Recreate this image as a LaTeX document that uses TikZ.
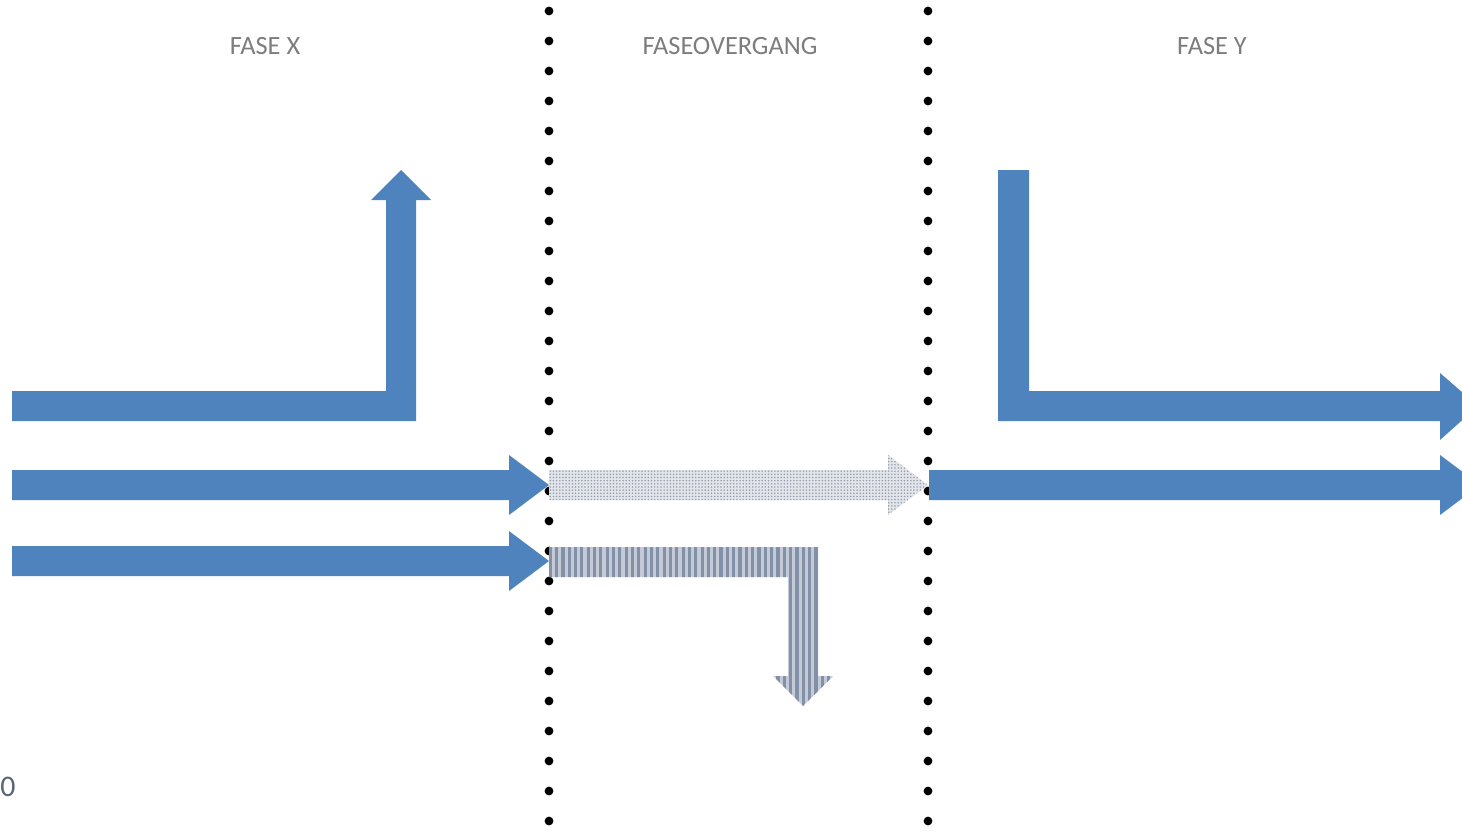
\documentclass[tikz,border=0pt]{standalone}
\usepackage{fontspec}
\usepackage{xcolor}
\usepackage{tikz}
\usetikzlibrary{patterns.meta}
\newfontfamily\fasefont{Carlito}
\definecolor{faseblue}{RGB}{79,131,189}
\definecolor{fasegray}{RGB}{125,125,125}
\definecolor{dotgray}{RGB}{150,160,175}
\definecolor{dotback}{RGB}{226,229,234}
\definecolor{stripegray}{RGB}{130,145,168}
\definecolor{stripeback}{RGB}{196,203,214}
\tikzset{%
	blockarr/.style  = {fill=faseblue}, % Solid arrow
	dotarr/.style    = {preaction={fill=dotback}, pattern={Dots[distance=1.8pt, radius=0.5pt]}, pattern color=dotgray}, % Dotted arrow
	stripearr/.style = {preaction={fill=stripeback}, pattern={Lines[angle=90, distance=3.6pt, line width=1.8pt]}, pattern color=stripegray}, % Striped arrow
	phase/.style     = {font=\fasefont\fontsize{15}{18}\selectfont, text=fasegray}, % Phase label
	border/.style    = {fill=black}, % Phase border dots
}

\begin{document}
\begin{tikzpicture}[x=0.02cm, y=-0.02cm]
	\clip (0,0) rectangle (1462,838);
	\fill[white] (0,0) rectangle (1462,838);
	
	% phase labels
	\node[phase] (fx) at (265,46) {FASE X};
	\node[phase] (fo) at (730,46) {FASEOVERGANG};
	\node[phase] (fy) at (1212,46) {FASE Y};
	
	% phase borders
	\foreach \y in {11,41,...,821} {
		\fill[border] (549,\y) circle[radius=2.5pt];
		\fill[border] (928,\y) circle[radius=2.5pt];
	}
	
	% phase X
	\fill[blockarr] (12,391) -- (386,391) -- (386,200) -- (371,200) -- (401,170) -- (431,200) -- (416,200) -- (416,421) -- (12,421) -- cycle;
	\fill[blockarr] (12,470) -- (509,470) -- (509,455) -- (549,485) -- (509,515) -- (509,500) -- (12,500) -- cycle;
	\fill[blockarr] (12,546) -- (509,546) -- (509,531) -- (549,561) -- (509,591) -- (509,576) -- (12,576) -- cycle;
	
	% transition
	\fill[dotarr] (549,470) -- (888,470) -- (888,455) -- (928,485) -- (888,515) -- (888,500) -- (549,500) -- cycle;
	\fill[stripearr] (549,547) -- (818,547) -- (818,676) -- (833,676) -- (803,706) -- (773,676) -- (788,676) -- (788,577) -- (549,577) -- cycle;
	
	% phase Y
	\fill[blockarr] (998,170) -- (1029,170) -- (1029,391) -- (1440,391) -- (1440,373) -- (1478,406) -- (1440,440) -- (1440,421) -- (998,421) -- cycle;
	\fill[blockarr] (929,470) -- (1440,470) -- (1440,455) -- (1480,485) -- (1440,515) -- (1440,500) -- (929,500) -- cycle;
	
	% text at the left edge
	\node[font=\fasefont\fontsize{17}{20}\selectfont, text={rgb,255:red,90;green,100;blue,120}, anchor=west, inner sep=0pt] (cut) at (0,787) {0};
\end{tikzpicture}
\end{document}
